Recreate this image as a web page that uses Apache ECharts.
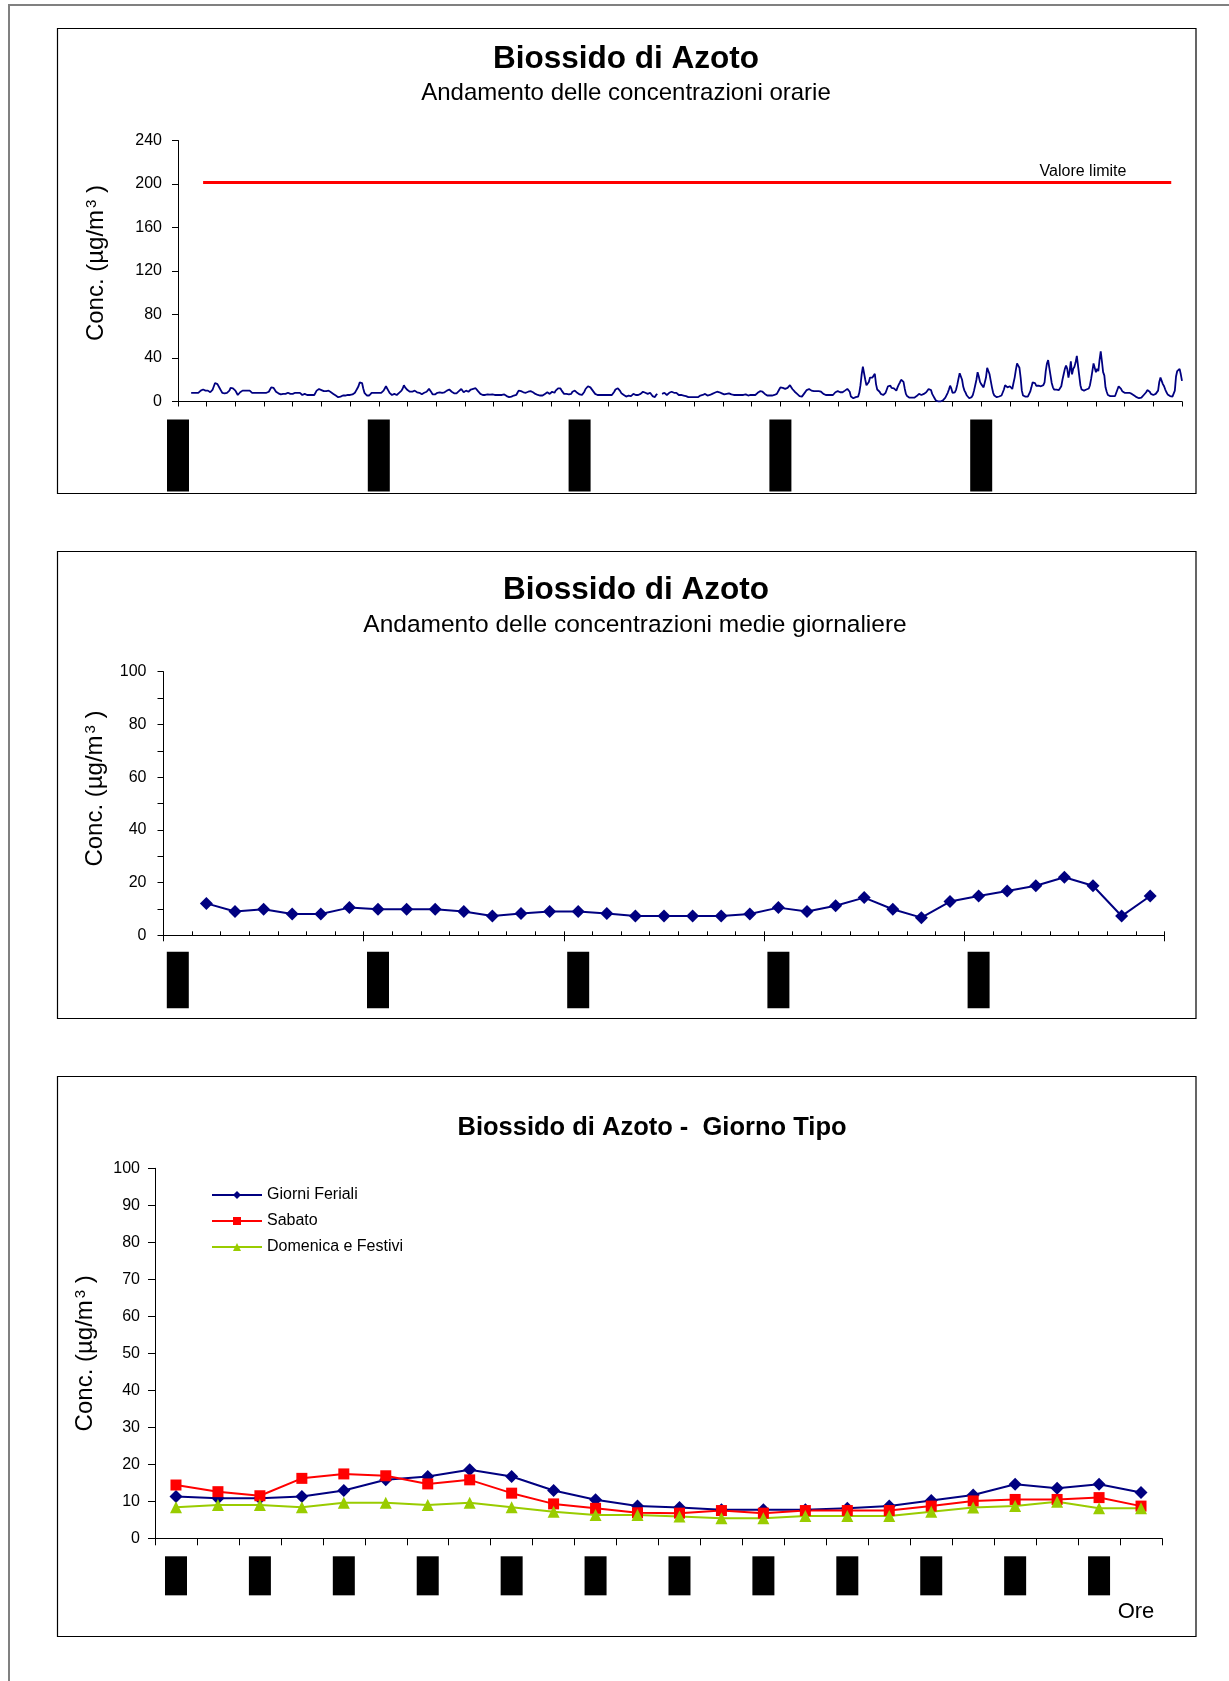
<!DOCTYPE html>
<html>
<head>
<meta charset="utf-8">
<script src="https://cdn.jsdelivr.net/npm/echarts@6/dist/echarts.min.js"></script>
<style>
html,body{margin:0;padding:0;background:#fff;}
#c{width:1229px;height:1681px;}
</style>
</head>
<body>
<div id="c"></div>
<script>
// ---------- DATA ----------
// Chart 1: hourly NO2 concentrations (µg/m3), hour 0 .. 840 (35 days)
const hourlyNO2 = [
  null,null,null,null,null,null,null,null,null,null,null,
  8,8,8,8,8,8,8,8,
  10,11.6,11,10,10,10,10,9,8.5,8.5,
  11,14,17,18.7,16,14.5,12,10,8,6.4,
  7.5,8,8,8,10,12.5,13,12,11,10,
  8,6,6.5,8.5,10,10,
  10,10,10,10,10,10,10,
  8,8,8,8,8,8,8,8,8,8,8,8,8,8,
  9,11,13,13.8,12.5,11,9,8,7.5,7,6.5,6,
  7,7.5,7,6,8,9.5,7,5.5,7,8,
  8,8,8,8,8,
  7,6,7,7,6.5,6,6,6,6,6,6,6,
  7.5,10,11.6,11.5,11,10.5,10,9.5,9.5,9.5,
  10,10,9,8.5,8,7,6,5.5,5,4,
  4,4.5,5,5.5,5.5,5.5,6,6,6,6,6,
  6.5,7.5,8,10,12,14,17.5,19.3,17,12,
  8,6.5,5.5,5.5,5.5,7,8,8,
  8,8,8,8,8,8,8,
  8.5,10,12,
  14,12,10,8,6.5,6,6.5,7,6.5,6,
  7,8,9,10,12,15,13,11.5,10.5,9.5,
  9,9,9,9.5,10,9,8.5,8,8,7,
  6.7,7.5,8,9,9,10.5,11.6,10,8.5,6.5,
  6,6.5,7.5,8,8.5,8.5,8,8,8,8.5,8.5,
  10,11.6,11,10,9,8.5,7.5,7,7.5,8,
  9.5,11,11.5,10,8.5,9.5,10,9.5,9,10,
  11,11.5,11.6,12,12.2,11,9.5,8,7,6.5,
  6,5.5,6,7,6.5,6,6.3,6.5,6.5,6.2,6,
  6,6,6,6,6,6,
  6.3,6.5,5.5,5,4.5,4,4,4.5,5,5.5,6,6,
  8,10,11.6,9.5,9,8.5,8.2,8,8,9,
  10,9.5,8.5,8.5,7.5,7,6.5,6,5.5,5.5,
  5,5.5,6,7,8,8.5,7.5,7,8.5,9,
  8.5,8,10,11.6,12,12.2,12,10,8.5,7,
  6,7,7.5,6.5,5.5,7,9,10.5,10,8.5,8,7,6.5,
  6.5,6,7.5,9,11.5,12.5,14,15.3,13,11.5,10,8.5,7,6,
  6,6,6,6,6,6,6,6,6,6,6,6,6,6,
  9,11,11.7,12.2,11.5,9.5,7.5,6.5,6,5.5,4.5,4,
  5.5,6,5,6,7,6,6,6,6,6.5,7,
  8,9,8.5,8,7.5,7,7.5,8,6.5,5,4.5,4,6,7,
  null,null,null,
  7,7.5,8,7,6,7,8,8.5,9,8.5,8,8,8,
  7,6,6,6,6,5.5,5.5,5,4.5,
  4,4,4,4,4,4,4,4,4,4,
  5.5,5.8,6,6.5,7,6,5.5,5.5,6,6.5,
  7,7.5,8,8.5,9,9,8.5,8,7.5,7,
  6.5,6,7,7.5,7.5,7,6.5,
  6,6,6,6,6,6,6,6,6,6,6,
  6.5,7,5.5,5,6,7,6,5.5,6,7,
  8,8.5,9.5,10,9,8,7,6,5.5,5,5.5,6,5.5,5.5,6,
  7,7,8.5,11,13,12.5,12.5,13,11.6,12,
  12.5,13,15,13.5,11.5,10,9,8,7,6,
  5,4.5,4.5,6,7.5,9,10.5,11.5,11.5,11,
  10,9,9.5,10,9.5,9,9.5,10,9,7.5,
  7,6.5,6,6,6,6,6,6,6,
  7,8.5,10,9.5,8.5,8.5,9,8.5,8,10,
  11.6,11.6,11.5,9,4.5,3.5,3,3.5,4,4.5,4.5,
  8,15,25,32,33,20,15,14.5,18,22,
  23.5,22,21,25.5,16,11,10,9,7,5.5,
  6,6.5,8,9,14,15.5,14.5,12.5,11.5,12,
  13,10,13,15.5,17.5,20,21,18,12,7,
  5,4,3.5,3,3.5,4,3.5,3,5,6,
  7,6.5,6,6.5,7,7.5,8.5,10,11.5,12,
  10.5,7,5,3,1,0.5,0,0,0,0,
  1,2,3.5,5,8,11,14.5,12,8,7,
  8.5,11,15.5,21,26,27,20,13.5,10,8,
  5.5,4,3,
  4,4,6,10,15,20,27,23,18,16,
  14.5,13,12,22,31,31,25,19,13,8,
  5.5,4.5,4,4.3,4.6,5,5.5,6.5,11,15,
  14.5,13,13,14,12.5,11.5,17,22,29,35,
  33,31,22,10,5.5,4,4.5,5,4.5,4,
  9,13,17.5,19,17,14.5,13,14.5,15.5,14,
  13,15,17.5,28,35,38,31,24,17,13,
  11,10.5,11,11.5,10.5,11.5,14,20,25,30,
  33,30,22,28,37,25,30,32,36,42,
  41,24,15,11,10,10,11,11,10,12,
  15,21,28,35,35,27,30,28,38,46,
  37,27,24,13,9,6,5.5,5,5,5,
  5,5,8,11,14,14,11.6,9.5,8,8,
  8,8,8,8,8,7,6,5.5,5,4,
  3.5,3,3,3.5,4.5,6,7,8.5,10.5,11.5,
  9,7,6.5,6,6.5,7,7,10,18,22,
  19,16,14,11,8.5,6.5,5,5,4.5,4.5,
  6,10,23,28,29,30,25,19
];
const limitValue = 202;          // "Valore limite" line
const limitHours = [21, 831];    // hour span of the limit line
const weekLabelsHourly = ['01/02/2008', '08/02/2008', '15/02/2008', '22/02/2008', '29/02/2008'];

// Chart 2: daily means (35 days, first day without a value)
const dailyMeanNO2 = [null, 12.1, 9.0, 9.9, 8.1, 8.1, 10.5, 9.9, 9.9, 9.9, 9.0, 7.3, 8.3, 9.0, 9.0, 8.3, 7.3,
  7.3, 7.3, 7.3, 8.1, 10.5, 9.0, 11.2, 14.3, 9.9, 6.7, 12.8, 14.9, 16.8, 18.8, 22.0, 18.8, 7.3, 14.9];
const weekLabelsDaily = ['01/02/08', '08/02/08', '15/02/08', '22/02/08', '29/02/08'];

// Chart 3: typical day
const hoursOfDay = ['00:00','01:00','02:00','03:00','04:00','05:00','06:00','07:00','08:00','09:00','10:00','11:00',
  '12:00','13:00','14:00','15:00','16:00','17:00','18:00','19:00','20:00','21:00','22:00','23:00'];
const giorniFeriali = [11.3, 10.8, 10.8, 11.3, 12.9, 15.8, 16.7, 18.5, 16.7, 12.9, 10.4, 8.7, 8.3, 7.7, 7.7, 7.7, 8.1, 8.7, 10.2, 11.7, 14.6, 13.5, 14.6, 12.4];
const sabato = [14.4, 12.6, 11.5, 16.2, 17.4, 16.9, 14.7, 15.8, 12.2, 9.3, 8.1, 6.9, 6.8, 7.5, 6.8, 7.5, 7.5, 7.5, 8.7, 10.1, 10.5, 10.5, 11.0, 8.7];
const domenicaFestivi = [8.4, 9.0, 9.0, 8.4, 9.6, 9.6, 9.0, 9.6, 8.4, 7.2, 6.3, 6.3, 5.9, 5.4, 5.4, 6.0, 6.0, 6.0, 7.2, 8.3, 8.7, 9.9, 8.1, 8.1];

// ---------- CHART ----------
const FONT = 'Arial, "Liberation Sans", sans-serif';
const hourIdx = hourlyNO2.map((_, i) => String(i));
const dayIdx = dailyMeanNO2.map((_, i) => String(i));
const BLUE = '#000080', RED = '#FF0000', GREEN = '#99CC00';

const axisLineBlack = { show: true, lineStyle: { color: '#000', width: 1 } };
const yName = 'Conc. (µg/m{sup|3} )';
function yNameStyle(padLeft) {
  return {
    fontFamily: FONT, fontSize: 24, color: '#000',
    padding: [0, 0, 0, padLeft],
    rich: { sup: { fontFamily: FONT, fontSize: 15, color: '#000', verticalAlign: 'top', padding: [0, 0, 0, 2] } }
  };
}
const blackBoxLabel = {
  rotate: 90, fontFamily: FONT, fontSize: 14, color: '#000',
  backgroundColor: '#000', lineHeight: 16
};
const tickLabel = { fontFamily: FONT, fontSize: 16, color: '#000' };

const chart = echarts.init(document.getElementById('c'), null, { renderer: 'canvas' });

const option = {
  animation: false,
  backgroundColor: '#fff',
  textStyle: { fontFamily: FONT },
  grid: [
    { left: 178, top: 140.5, width: 1004, height: 261, outerBoundsMode: 'none' },
    { left: 163.5, top: 671.7, width: 1001, height: 263.6, outerBoundsMode: 'none' },
    { left: 163.5, top: 671.7, width: 1001, height: 263.6, outerBoundsMode: 'none' },
    { left: 155, top: 1168.3, width: 1007, height: 370, outerBoundsMode: 'none' }
  ],
  legend: {
    orient: 'vertical', left: 206, top: 1182,
    itemWidth: 50, itemHeight: 10, itemGap: 10,
    textStyle: { fontFamily: FONT, fontSize: 16, color: '#000' },
    data: ['Giorni Feriali', 'Sabato', 'Domenica e Festivi']
  },
  xAxis: [
    {
      gridIndex: 0, type: 'category', data: hourIdx, boundaryGap: false,
      axisLine: axisLineBlack,
      axisTick: { show: true, interval: 23, length: 5, lineStyle: { color: '#000' } },
      axisLabel: Object.assign({}, blackBoxLabel, {
        interval: (i) => i % 168 === 0 && i < 840,
        margin: 18, padding: [3, 1, 3, 1],
        formatter: (v, i) => weekLabelsHourly[Math.round(i / 168)]
      }),
      splitLine: { show: false }
    },
    {
      gridIndex: 1, type: 'category', data: dayIdx, boundaryGap: true,
      axisLine: axisLineBlack,
      axisTick: { show: true, interval: 0, inside: true, length: 4, lineStyle: { color: '#000' } },
      axisLabel: { show: false },
      splitLine: { show: false }
    },
    {
      gridIndex: 2, type: 'category', data: dayIdx, boundaryGap: true,
      axisLine: { show: false },
      axisTick: { show: true, interval: 6, length: 6, lineStyle: { color: '#000' } },
      axisLabel: Object.assign({}, blackBoxLabel, {
        interval: 6, margin: 16.5, padding: [3, 1, 3, 1],
        formatter: (v, i) => weekLabelsDaily[Math.round(i / 7)]
      }),
      splitLine: { show: false }
    },
    {
      gridIndex: 3, type: 'category', data: hoursOfDay, boundaryGap: true,
      axisLine: axisLineBlack,
      axisTick: { show: true, interval: 0, length: 7, lineStyle: { color: '#000' } },
      axisLabel: Object.assign({}, blackBoxLabel, {
        interval: 1, margin: 18, padding: [3, 2, 3, 2]
      }),
      splitLine: { show: false }
    }
  ],
  yAxis: [
    {
      gridIndex: 0, type: 'value', min: 0, max: 240, interval: 40,
      axisLine: axisLineBlack,
      axisTick: { show: true, length: 6, lineStyle: { color: '#000' } },
      splitLine: { show: false },
      axisLabel: Object.assign({}, tickLabel, { margin: 16 }),
      name: yName, nameLocation: 'middle', nameGap: 70, nameTextStyle: yNameStyle(16)
    },
    {
      gridIndex: 1, type: 'value', min: 0, max: 100, interval: 10,
      axisLine: axisLineBlack,
      axisTick: { show: true, length: 6, lineStyle: { color: '#000' } },
      splitLine: { show: false },
      axisLabel: Object.assign({}, tickLabel, { margin: 17,
        formatter: (v) => (v % 20 === 0 ? String(v) : '') }),
      name: yName, nameLocation: 'middle', nameGap: 56, nameTextStyle: yNameStyle(30)
    },
    {
      gridIndex: 2, type: 'value', min: 0, max: 100, show: false
    },
    {
      gridIndex: 3, type: 'value', min: 0, max: 100, interval: 10,
      axisLine: axisLineBlack,
      axisTick: { show: true, length: 7, lineStyle: { color: '#000' } },
      splitLine: { show: false },
      axisLabel: Object.assign({}, tickLabel, { margin: 15 }),
      name: yName, nameLocation: 'middle', nameGap: 58, nameTextStyle: yNameStyle(0)
    }
  ],
  series: [
    {
      type: 'line', name: 'NO2 orario', xAxisIndex: 0, yAxisIndex: 0,
      data: hourlyNO2, showSymbol: false, symbol: 'none',
      lineStyle: { color: BLUE, width: 1.8 }, itemStyle: { color: BLUE },
      markLine: {
        silent: true, symbol: ['none', 'none'], label: { show: false },
        lineStyle: { color: RED, width: 3, type: 'solid' },
        data: [[{ coord: [limitHours[0], limitValue] }, { coord: [limitHours[1], limitValue] }]]
      }
    },
    {
      type: 'line', name: 'NO2 giornaliero', xAxisIndex: 1, yAxisIndex: 1,
      data: dailyMeanNO2, symbol: 'diamond', symbolSize: 13,
      lineStyle: { color: BLUE, width: 2 }, itemStyle: { color: BLUE }
    },
    {
      type: 'line', name: 'Giorni Feriali', xAxisIndex: 3, yAxisIndex: 3,
      data: giorniFeriali, symbol: 'diamond', symbolSize: 13,
      lineStyle: { color: BLUE, width: 2 }, itemStyle: { color: BLUE }
    },
    {
      type: 'line', name: 'Sabato', xAxisIndex: 3, yAxisIndex: 3,
      data: sabato, symbol: 'rect', symbolSize: 11,
      lineStyle: { color: RED, width: 2 }, itemStyle: { color: RED }
    },
    {
      type: 'line', name: 'Domenica e Festivi', xAxisIndex: 3, yAxisIndex: 3,
      data: domenicaFestivi, symbol: 'triangle', symbolSize: 12,
      lineStyle: { color: GREEN, width: 2 }, itemStyle: { color: GREEN }
    }
  ],
  graphic: [
    { type: 'rect', silent: true, z: -1, shape: { x: 9, y: 5, width: 1400, height: 1800 },
      style: { fill: 'none', stroke: '#808080', lineWidth: 2 } },
    { type: 'rect', silent: true, shape: { x: 57.5, y: 28.5, width: 1138.5, height: 465 },
      style: { fill: 'none', stroke: '#000', lineWidth: 1.2 } },
    { type: 'rect', silent: true, shape: { x: 57.5, y: 551.5, width: 1138.5, height: 467 },
      style: { fill: 'none', stroke: '#000', lineWidth: 1.2 } },
    { type: 'rect', silent: true, shape: { x: 57.5, y: 1076.5, width: 1138.5, height: 560 },
      style: { fill: 'none', stroke: '#000', lineWidth: 1.2 } },
    { type: 'text', silent: true, x: 626, y: 59,
      style: { text: 'Biossido di Azoto', font: 'bold 31.5px ' + FONT, fill: '#000', align: 'center', verticalAlign: 'middle' } },
    { type: 'text', silent: true, x: 626, y: 93,
      style: { text: 'Andamento delle concentrazioni orarie', font: '24px ' + FONT, fill: '#000', align: 'center', verticalAlign: 'middle' } },
    { type: 'text', silent: true, x: 1083, y: 171.5,
      style: { text: 'Valore limite', font: '16px ' + FONT, fill: '#000', align: 'center', verticalAlign: 'middle' } },
    { type: 'text', silent: true, x: 636, y: 590,
      style: { text: 'Biossido di Azoto', font: 'bold 31.5px ' + FONT, fill: '#000', align: 'center', verticalAlign: 'middle' } },
    { type: 'text', silent: true, x: 635, y: 625,
      style: { text: 'Andamento delle concentrazioni medie giornaliere', font: '24.5px ' + FONT, fill: '#000', align: 'center', verticalAlign: 'middle' } },
    { type: 'text', silent: true, x: 652, y: 1128,
      style: { text: 'Biossido di Azoto -  Giorno Tipo', font: 'bold 25.5px ' + FONT, fill: '#000', align: 'center', verticalAlign: 'middle' } },
    { type: 'text', silent: true, x: 1136, y: 1612,
      style: { text: 'Ore', font: '22px ' + FONT, fill: '#000', align: 'center', verticalAlign: 'middle' } }
  ]
};
chart.setOption(option);
</script>
</body>
</html>
